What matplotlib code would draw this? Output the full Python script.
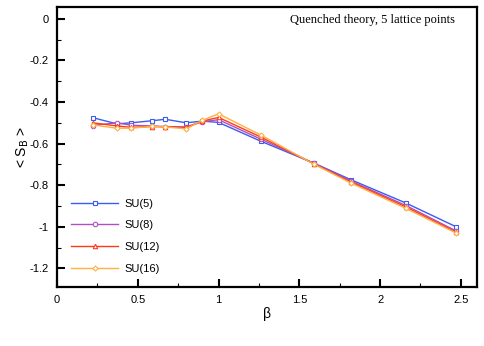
import matplotlib

matplotlib.use("Agg")
import matplotlib.pyplot as plt
from matplotlib.ticker import MultipleLocator, FuncFormatter

# beta values (shared by all series)
beta = [0.22, 0.37, 0.46, 0.59, 0.67, 0.80, 0.90, 1.00, 1.26, 1.59, 1.82, 2.16, 2.47]

su5 = [-0.475, -0.505, -0.500, -0.490, -0.483, -0.500, -0.492, -0.498, -0.588, -0.694, -0.774, -0.886, -1.000]
su8 = [-0.513, -0.500, -0.512, -0.515, -0.518, -0.520, -0.495, -0.485, -0.578, -0.695, -0.780, -0.898, -1.020]
su12 = [-0.500, -0.515, -0.522, -0.518, -0.520, -0.522, -0.492, -0.474, -0.568, -0.697, -0.785, -0.905, -1.026]
su16 = [-0.510, -0.526, -0.526, -0.517, -0.520, -0.529, -0.488, -0.457, -0.558, -0.699, -0.790, -0.912, -1.030]

labels = ["SU(5)", "SU(8)", "SU(12)", "SU(16)"]
colors = ["#3a5cf0", "#b04fc4", "#ff3a1a", "#ffb040"]
markers = ["s", "o", "^", "D"]

plt.rcParams["font.family"] = ["Liberation Sans", "DejaVu Sans"]

fig = plt.figure(figsize=(4.85, 3.46), dpi=100)
ax = fig.add_axes([0.1175, 0.1705, 0.866, 0.808])

for ys, lab, c, m in zip([su5, su8, su12, su16], labels, colors, markers):
    ax.plot(beta, ys, color=c, marker=m, markersize=3.2 if m != "D" else 2.6,
            markerfacecolor="white", markeredgecolor=c, markeredgewidth=0.8,
            linewidth=1.0, label=lab)

ax.set_xlim(0, 2.6)
ax.set_ylim(-1.29, 0.055)
ax.xaxis.set_major_locator(MultipleLocator(0.5))
ax.xaxis.set_minor_locator(MultipleLocator(0.25))
ax.yaxis.set_major_locator(MultipleLocator(0.2))
ax.yaxis.set_minor_locator(MultipleLocator(0.1))
ax.xaxis.set_major_formatter(FuncFormatter(lambda v, p: f"{v:g}"))
ax.yaxis.set_major_formatter(FuncFormatter(lambda v, p: f"{v:g}" if abs(v) > 1e-9 else "0"))
ax.tick_params(which="major", direction="in", length=6, width=1.5, labelsize=8, pad=6)
ax.tick_params(which="minor", direction="in", length=3, width=0.8)
ax.tick_params(top=False, right=False, which="both")
for sp in ax.spines.values():
    sp.set_linewidth(1.6)

ax.set_xlabel("β", fontsize=10, labelpad=1)
ax.set_ylabel(r"< S$_\mathrm{B}$ >", fontsize=10)
ax.yaxis.set_label_coords(-0.063, 0.5)

ax.text(0.948, 0.955, "Quenched theory, 5 lattice points", transform=ax.transAxes,
        ha="right", va="center", fontsize=9, family="Liberation Serif")

ax.legend(loc="lower left", bbox_to_anchor=(0.01, 0.012), frameon=False, fontsize=8,
          handlelength=4.2, labelspacing=1.05, handletextpad=0.6)

plt.savefig("out.png", dpi=100)
